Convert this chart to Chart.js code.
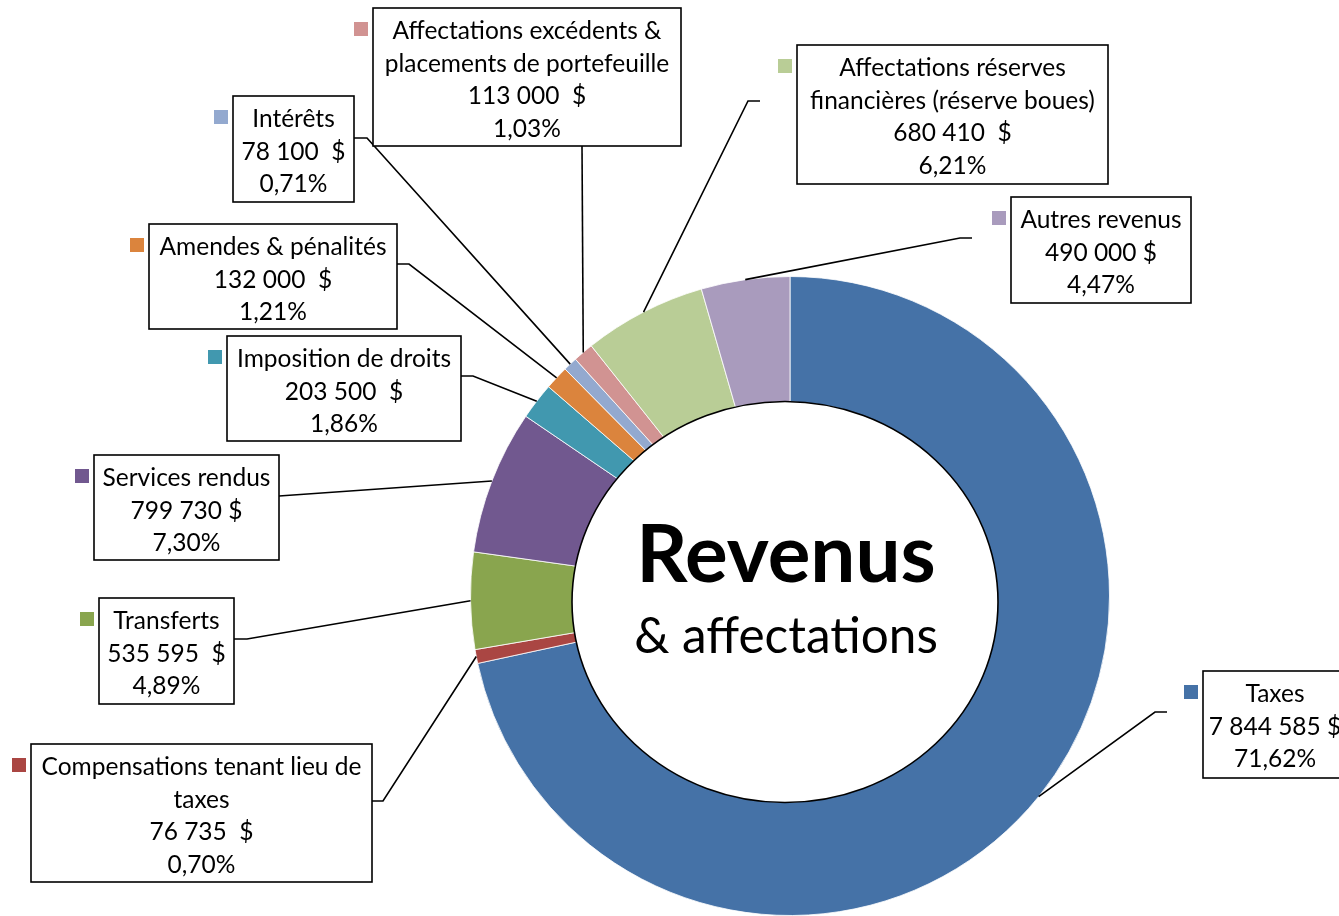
<!DOCTYPE html>
<html>
<head>
<meta charset="utf-8">
<script src="https://cdn.jsdelivr.net/npm/chart.js@4.4.1/dist/chart.umd.min.js"></script>
<style>
html,body{margin:0;padding:0;background:#fff;overflow:hidden;}
#wrap{width:1339px;height:916px;position:relative;}
</style>
</head>
<body>
<div id="wrap"><canvas id="c" width="1339" height="916"></canvas></div>
<script>
// ---- data ----
const categories = ['Taxes', 'Compensations tenant lieu de taxes', 'Transferts', 'Services rendus',
  'Imposition de droits', 'Amendes & pénalités', 'Intérêts',
  'Affectations excédents & placements de portefeuille',
  'Affectations réserves financières (réserve boues)', 'Autres revenus'];
const values = [7844585, 76735, 535595, 799730, 203500, 132000, 78100, 113000, 680410, 490000];
const valueLabels = ['7 844 585 $', '76 735  $', '535 595  $', '799 730 $', '203 500  $',
  '132 000  $', '78 100  $', '113 000  $', '680 410  $', '490 000 $'];
const percentLabels = ['71,62%', '0,70%', '4,89%', '7,30%', '1,86%', '1,21%', '0,71%', '1,03%', '6,21%', '4,47%'];
const nameLines = [['Taxes'], ['Compensations tenant lieu de', 'taxes'], ['Transferts'], ['Services rendus'],
  ['Imposition de droits'], ['Amendes & pénalités'], ['Intérêts'],
  ['Affectations excédents &', 'placements de portefeuille'],
  ['Affectations réserves', 'financières (réserve boues)'], ['Autres revenus']];
const colors = ['#4572A7', '#AA4643', '#89A54E', '#71588F', '#4198AF', '#DB843D', '#93A9CF', '#D19392', '#B9CD96', '#A99BBD'];
const centerTitle = 'Revenus';
const centerSubtitle = '& affectations';

// ---- label layout (box rect, leader start & elbow) ----
const labelLayout = [
  {x:1203, y:671, w:144, h:107, path:[[1167,712],[1155,712]]},
  {x:31,   y:744, w:341, h:138, path:[[372,801],[383,801]]},
  {x:99,   y:598, w:135, h:106, path:[[234,639],[247,639]]},
  {x:94,   y:455, w:185, h:105, path:[[279,496]]},
  {x:227,  y:336, w:234, h:105, path:[[461,376],[473,376]]},
  {x:149,  y:224, w:248, h:105, path:[[397,264],[409,264]]},
  {x:233,  y:96,  w:121, h:106, path:[[354,138],[367,138]]},
  {x:373,  y:8,   w:308, h:138, path:[[582,146]]},
  {x:797,  y:45,  w:311, h:139, path:[[760,101],[748,101]]},
  {x:1011, y:197, w:180, h:106, path:[[972,238],[960,238]]}
];
const FONT = 'Lato, "Open Sans", sans-serif';

const labelsPlugin = {
  id: 'labelsPlugin',
  afterDraw(chart) {
    const ctx = chart.ctx;
    const meta = chart.getDatasetMeta(0);
    ctx.save();
    // leader lines
    ctx.strokeStyle = '#000';
    ctx.lineWidth = 1.6;
    meta.data.forEach((arc, i) => {
      const p = arc.getProps(['x','y','startAngle','endAngle','outerRadius'], true);
      const mid = (p.startAngle + p.endAngle) / 2;
      const ex = p.x + Math.cos(mid) * p.outerRadius;
      const ey = p.y + Math.sin(mid) * p.outerRadius;
      const L = labelLayout[i];
      ctx.beginPath();
      ctx.moveTo(L.path[0][0], L.path[0][1]);
      for (let k = 1; k < L.path.length; k++) ctx.lineTo(L.path[k][0], L.path[k][1]);
      ctx.lineTo(ex, ey);
      ctx.stroke();
    });
    // boxes
    labelLayout.forEach((L, i) => {
      ctx.fillStyle = '#fff';
      ctx.fillRect(L.x, L.y, L.w, L.h);
      ctx.strokeStyle = '#000';
      ctx.lineWidth = 1.6;
      ctx.strokeRect(L.x, L.y, L.w, L.h);
      // legend key
      ctx.fillStyle = colors[i];
      ctx.fillRect(L.x - 19, L.y + 14, 14, 14);
      const lines = nameLines[i].concat([valueLabels[i], percentLabels[i]]);
      ctx.fillStyle = '#000';
      ctx.font = '24.5px ' + FONT;
      ctx.textAlign = 'center';
      ctx.textBaseline = 'middle';
      const cx = L.x + L.w / 2;
      lines.forEach((t, k) => ctx.fillText(t, cx, L.y + 23 + k * 32.7));
    });
    // center ellipse
    ctx.beginPath();
    ctx.ellipse(785, 602, 213, 200.5, 0, 0, Math.PI * 2);
    ctx.fillStyle = '#fff';
    ctx.fill();
    ctx.lineWidth = 1.6;
    ctx.strokeStyle = '#000';
    ctx.stroke();
    ctx.fillStyle = '#000';
    ctx.textAlign = 'center';
    ctx.textBaseline = 'alphabetic';
    ctx.font = 'bold 80px ' + FONT;
    ctx.fillText(centerTitle, 786, 582);
    ctx.font = '49.5px ' + FONT;
    ctx.fillText(centerSubtitle, 786, 653);
    ctx.restore();
  }
};

new Chart(document.getElementById('c'), {
  type: 'doughnut',
  data: {
    labels: categories,
    datasets: [{
      data: values,
      backgroundColor: colors,
      borderColor: 'rgba(255,255,255,0.8)',
      borderWidth: 1,
      hoverOffset: 0
    }]
  },
  options: {
    responsive: false,
    animation: false,
    cutout: '55%',
    layout: { padding: { left: 469, top: 276, right: 228, bottom: 0 } },
    plugins: { legend: { display: false }, tooltip: { enabled: false } }
  },
  plugins: [labelsPlugin]
});
</script>
</body>
</html>
